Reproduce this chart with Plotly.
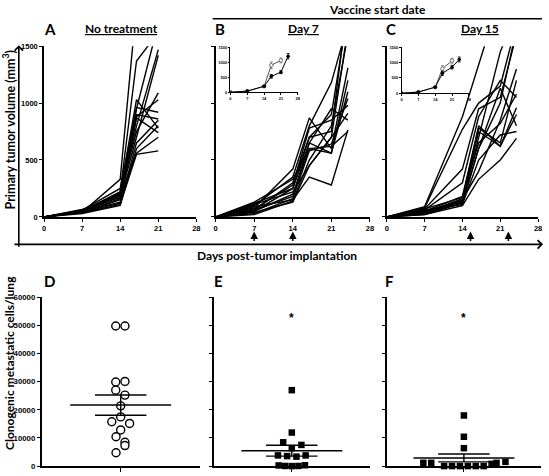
import numpy as np
import plotly.graph_objects as go

# ---------------- DATA ----------------
days_A = [0, 7, 14, 17, 21]
mice_A = [
    [0, 40, 330, 1860, 2500],
    [0, 50, 220, 1370, 1620],
    [0, 60, 250, 950, 1700],
    [0, 55, 200, 800, 1470],
    [0, 50, 180, 700, 1420],
    [0, 45, 220, 1030, 780],
    [0, 65, 170, 960, 920],
    [0, 40, 150, 880, 1030],
    [0, 50, 130, 900, 860],
    [0, 35, 110, 550, 580],
    [0, 60, 190, 560, 700],
    [0, 45, 160, 870, 740],
    [0, 55, 210, 750, 1090],
    [0, 40, 120, 650, 850],
    [0, 30, 100, 600, 800],
]
days_B = [0, 7, 14, 17, 21, 24]
mice_B = [
    [0, 80, 420, 870, 600, 1310],
    [0, 100, 350, 800, 1180, 1700],
    [0, 60, 300, 700, 900, 1800],
    [0, 120, 250, 650, 560, 1200],
    [0, 50, 200, 600, 560, 1100],
    [0, 90, 150, 350, 280, 765],
    [0, 40, 130, 450, 700, 1650],
    [0, 30, 160, 580, 640, 1040],
    [0, 70, 280, 780, 850, 980],
    [0, 110, 220, 450, 700, 910],
    [0, 20, 140, 500, 800, 1600],
    [0, 60, 180, 650, 950, 850],
    [0, 130, 330, 600, 620, 750],
    [0, 50, 250, 700, 750, 1900],
]
days_C = [0, 7, 14, 17, 21, 24]
mice_C = [
    [0, 90, 880, 1300, 1900, 2400],
    [0, 80, 770, 1000, 1150, 1700],
    [0, 70, 420, 950, 1050, 1600],
    [0, 60, 300, 880, 1200, 1050],
    [0, 50, 180, 780, 650, 1200],
    [0, 40, 160, 800, 620, 960],
    [0, 30, 140, 750, 620, 900],
    [0, 20, 120, 600, 1130, 800],
    [0, 60, 110, 500, 720, 750],
    [0, 40, 150, 400, 850, 1300],
    [0, 20, 100, 330, 500, 690],
    [0, 50, 130, 700, 1450, 1800],
    [0, 30, 120, 600, 1000, 1650],
    [0, 70, 170, 650, 820, 1080],
]
vaccine_days_B = [7, 14]
vaccine_days_C = [15.5, 22.5]

# insets: mean +/- error
inset_ctrl_days = [0, 7, 14, 17, 21]
insetB_ctrl = [0, 40, 200, 900, 1060]
insetB_ctrl_err = [0, 10, 20, 110, 80]
inset_trt_days = [0, 7, 14, 17, 21, 24]
insetB_trt = [0, 40, 200, 530, 670, 1200]
insetB_trt_err = [0, 10, 20, 60, 50, 90]
insetC_ctrl = [0, 40, 200, 800, 1060]
insetC_ctrl_err = [0, 10, 20, 100, 80]
insetC_trt = [0, 40, 200, 650, 850, 1100]
insetC_trt_err = [0, 10, 20, 70, 60, 80]

# clonogenic cells / lung
D_vals = [49800, 49800, 30100, 29900, 27000, 25250, 21430, 17490, 15750, 15170,
          12860, 10420, 8460, 7300, 4750]
D_jit = [-5, 4.3, 4.3, -5, -5, 4.3, 0, 0, -9, 9, 0, -4.7, 4.3, 4.3, -4.7]
E_vals = [27000, 11930, 8460, 7530, 6370, 3800, 3560, 3360, 3800, 230, 50, 0, 50, 300]
E_jit = [0, 0, -8.7, 9.7, 0, -14, -4.7, 4.7, 14, -13.3, -6.7, 0, 6.7, 13.3]
F_vals = [18000, 10430, 6370, 1160, 1160, 0, 0, 0, 0, 0, 0, 800, 1160, 1500]
F_jit = [0, 0, 0, -41, -33, -20, -12, -4, 4, 12, 20, 28, 33, 42]
star_value = 52800
y_ticks_D = [0, 10000, 20000, 30000, 40000, 50000, 60000]
day_ticks = [0, 7, 14, 21, 28]
vol_ticks = [0, 500, 1000, 1500]

# ---------------- LAYOUT HELPERS ----------------
W, H = 549, 476
def fx(p): return p / W
def fy(p): return 1 - p / H

TXT = "Lato"
TICKF = dict(family="Liberation Sans", size=7.5, color="black", weight="bold")

fig = go.Figure()

def axis_style(**kw):
    d = dict(showline=True, linecolor="black", linewidth=1.5, ticks="outside",
             ticklen=3, tickwidth=1.2, tickcolor="black", showgrid=False,
             zeroline=False, tickfont=TICKF, fixedrange=True)
    d.update(kw)
    return d

lay = {}
for i, (x0, x1, labels) in enumerate([(42.5, 196.5, True), (216, 372, False), (389, 542, False)]):
    n = "" if i == 0 else str(i + 1)
    lay["xaxis" + n] = axis_style(domain=[fx(x0), fx(x1)], range=[0, 28], tickvals=day_ticks,
                                  anchor="y" + n)
    lay["yaxis" + n] = axis_style(domain=[fy(217), fy(43)], range=[0, 1500], tickvals=vol_ticks,
                                  showticklabels=labels, anchor="x" + n)
small = dict(family="Liberation Sans", size=4, color="black", weight="bold")
for n, (x0, x1, yb, yt) in zip(["4", "5"], [(231, 299, 90, 44), (404, 472, 91, 44)]):
    lay["xaxis" + n] = axis_style(domain=[fx(x0), fx(x1)], range=[0, 28], tickvals=day_ticks,
                                  anchor="y" + n, linewidth=1, ticklen=1.5, tickwidth=0.8,
                                  tickfont=small)
    lay["yaxis" + n] = axis_style(domain=[fy(yb), fy(yt)], range=[0, 1500], tickvals=vol_ticks,
                                  anchor="x" + n, linewidth=1, ticklen=1.5, tickwidth=0.8,
                                  tickfont=small)
for n, (x0, x1, labels) in zip(["6", "7", "8"], [(40, 200, True), (214, 372, False), (389, 545, False)]):
    half = (x1 - x0) / 2
    lay["xaxis" + n] = axis_style(domain=[fx(x0), fx(x1)], range=[-half, half], tickvals=[0],
                                  showticklabels=False, ticklen=4, anchor="y" + n)
    lay["yaxis" + n] = axis_style(domain=[fy(471), fy(299)], range=[0, 60000],
                                  tickvals=y_ticks_D, tickformat="d",
                                  showticklabels=labels, anchor="x" + n,
                                  tickfont=dict(family="Liberation Sans", size=7.8, color="black",
                                                weight="bold"))

# ---------------- TRACES ----------------
line = dict(color="black", width=1.4)
for days, mice, ax in [(days_A, mice_A, ""), (days_B, mice_B, "2"), (days_C, mice_C, "3")]:
    for m in mice:
        fig.add_trace(go.Scatter(x=days, y=m, mode="lines", line=line, showlegend=False,
                                 xaxis="x" + ax, yaxis="y" + ax, hoverinfo="skip"))

for ax, ctrl, cerr, trt, terr in [("4", insetB_ctrl, insetB_ctrl_err, insetB_trt, insetB_trt_err),
                                   ("5", insetC_ctrl, insetC_ctrl_err, insetC_trt, insetC_trt_err)]:
    fig.add_trace(go.Scatter(x=inset_ctrl_days, y=ctrl, mode="lines+markers",
                             line=dict(color="#555", width=1),
                             marker=dict(symbol="circle", size=3.5, color="white",
                                         line=dict(color="#555", width=0.8)),
                             error_y=dict(array=cerr, color="#777", thickness=0.8, width=1.5),
                             showlegend=False, xaxis="x" + ax, yaxis="y" + ax))
    fig.add_trace(go.Scatter(x=inset_trt_days, y=trt, mode="lines+markers",
                             line=dict(color="black", width=1),
                             marker=dict(symbol="circle", size=3.5, color="black"),
                             error_y=dict(array=terr, color="black", thickness=0.8, width=1.5),
                             showlegend=False, xaxis="x" + ax, yaxis="y" + ax))

shapes = []
MEAN_HALF, SEM_HALF = 51, 26
for ax, vals, jit, sym, mk in [("6", D_vals, D_jit, "circle", dict(size=8, color="white",
                                                                   line=dict(color="black", width=1.4))),
                               ("7", E_vals, E_jit, "square", dict(size=6.5, color="black")),
                               ("8", F_vals, F_jit, "square", dict(size=6.5, color="black"))]:
    v = np.array(vals, float)
    mean = v.mean()
    sem = v.std(ddof=1) / np.sqrt(len(v))
    fig.add_trace(go.Scatter(x=jit, y=vals, mode="markers", marker=dict(symbol=sym, **mk),
                             cliponaxis=False, showlegend=False, xaxis="x" + ax, yaxis="y" + ax))
    lw = dict(color="black", width=1.4)
    shapes += [
        dict(type="line", xref="x" + ax, yref="y" + ax, x0=-MEAN_HALF, x1=MEAN_HALF, y0=mean, y1=mean, line=lw),
        dict(type="line", xref="x" + ax, yref="y" + ax, x0=-SEM_HALF, x1=SEM_HALF, y0=mean + sem, y1=mean + sem, line=lw),
        dict(type="line", xref="x" + ax, yref="y" + ax, x0=-SEM_HALF, x1=SEM_HALF, y0=mean - sem, y1=mean - sem, line=lw),
        dict(type="line", xref="x" + ax, yref="y" + ax, x0=0, x1=0, y0=mean - sem, y1=mean + sem, line=lw),
    ]

shapes.append(dict(type="line", xref="paper", yref="paper", x0=fx(213), x1=fx(546),
                   y0=fy(15), y1=fy(15), line=dict(color="black", width=1.5)))

# ---------------- ANNOTATIONS ----------------
ann = []
def text(x, y, s, size=12, **kw):
    d = dict(x=fx(x), y=fy(y), xref="paper", yref="paper", text=s, showarrow=False,
             font=dict(family=TXT, size=size, color="black", weight="bold"),
             xanchor="center", yanchor="middle")
    d.update(kw)
    ann.append(d)

for lbl, x, y in [("A", 49, 25), ("B", 220, 25), ("C", 393, 25), ("D", 48, 282), ("E", 219, 282), ("F", 392, 282)]:
    text(x, y, lbl, size=15)
text(121, 25, "<u>No treatment</u>", size=12)
text(305, 25, "<u>Day 7</u>", size=12)
text(483, 25, "<u>Day 15</u>", size=12)
text(380, 6, "Vaccine start date", size=12)
text(278, 256, "Days post-tumor implantation", size=12)
text(7, 128, "Primary tumor volume (mm<sup>3</sup>)", size=12.5, textangle=-90)
text(7, 366, "Clonogenic metastatic cells/lung", size=12, textangle=-90)

for ax in ["7", "8"]:
    ann.append(dict(x=0, y=star_value, xref="x" + ax, yref="y" + ax, text="<b>*</b>", showarrow=False,
                    font=dict(family="Liberation Sans", size=12, color="black"),
                    xanchor="center", yanchor="middle"))

ann.append(dict(x=fx(17), y=fy(42), xref="paper", yref="paper", text="", showarrow=True,
                ax=0, ay=203, arrowhead=4, arrowsize=1, arrowwidth=1.6, arrowcolor="black"))
ann.append(dict(x=fx(547), y=fy(245), xref="paper", yref="paper", text="", showarrow=True,
                ax=-530, ay=0, arrowhead=4, arrowsize=1, arrowwidth=1.6, arrowcolor="black"))
for ax, days in [("x2", vaccine_days_B), ("x3", vaccine_days_C)]:
    for d in days:
        ann.append(dict(x=d, y=fy(232), xref=ax, yref="paper", text="", showarrow=True,
                        ax=0, ay=11, arrowhead=2, arrowsize=1, arrowwidth=1.5, arrowcolor="black"))

fig.update_layout(width=W, height=H, autosize=False, margin=dict(l=0, r=0, t=0, b=0),
                  paper_bgcolor="white", plot_bgcolor="white", shapes=shapes,
                  annotations=ann, showlegend=False, **lay)
fig.write_html("out.html", config={"displayModeBar": False},
               post_script="document.body.style.margin='0';document.body.style.overflow='hidden';")
